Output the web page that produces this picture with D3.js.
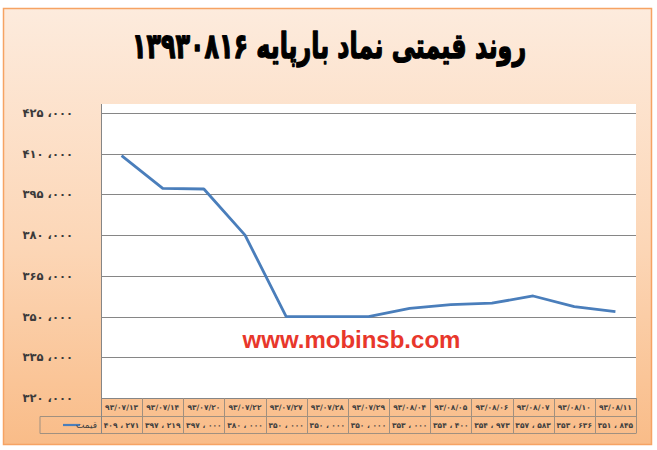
<!DOCTYPE html>
<html><head><meta charset="utf-8">
<script src="https://cdn.jsdelivr.net/npm/d3@7/dist/d3.min.js"></script>
<style>body{margin:0;background:#fff}svg{display:block}</style>
</head><body>
<script>
const titleText = "روند قیمتی نماد بارپایه ۱۳۹۳۰۸۱۶";
const seriesName = "قیمت";
const dates = ["۹۳/۰۷/۱۳","۹۳/۰۷/۱۴","۹۳/۰۷/۲۰","۹۳/۰۷/۲۲","۹۳/۰۷/۲۷","۹۳/۰۷/۲۸","۹۳/۰۷/۲۹","۹۳/۰۸/۰۴","۹۳/۰۸/۰۵","۹۳/۰۸/۰۶","۹۳/۰۸/۰۷","۹۳/۰۸/۱۰","۹۳/۰۸/۱۱"];
const prices = [409271,397219,397000,380000,350000,350000,350000,353000,354400,354973,357583,353636,351845];
const yTicks = [320000,335000,350000,365000,380000,395000,410000,425000];
const watermark = "www.mobinsb.com";

(function(){
const W = 657, H = 450;
const fa = n => String(n).replace(/\d/g, d => "۰۱۲۳۴۵۶۷۸۹"[d]);
const fmt = (n, sep) => { const s = d3.format(",")(n).replace(/,/g, sep); return fa(s); };

const svg = d3.select("body").append("svg").attr("width", W).attr("height", H);
const defs = svg.append("defs");
const g = defs.append("linearGradient").attr("id","bg").attr("x1",0).attr("y1",0).attr("x2",0).attr("y2",1);
g.append("stop").attr("offset","0%").attr("stop-color","#FDEBDD");
g.append("stop").attr("offset","55%").attr("stop-color","#FCD6B6");
g.append("stop").attr("offset","100%").attr("stop-color","#F9BC88");

svg.append("rect").attr("x",3.5).attr("y",8.5).attr("width",648).attr("height",436)
  .attr("fill","url(#bg)").attr("stroke","#F6A363").attr("stroke-width",1.5);

const pLeft = 101, pRight = 636, pTop = 104;
const x = d3.scaleBand().domain(dates).range([pLeft, pRight]);
const y = d3.scaleLinear().domain([320000, 425000]).range([398, 113]);

svg.append("rect").attr("x",pLeft).attr("y",pTop).attr("width",pRight-pLeft).attr("height",y(320000)-pTop).attr("fill","#fff");

svg.append("g").selectAll("line").data(yTicks.slice(1)).join("line")
  .attr("x1",pLeft).attr("x2",pRight).attr("y1",d=>Math.round(y(d))+0.5).attr("y2",d=>Math.round(y(d))+0.5)
  .attr("stroke","#868686").attr("stroke-width",1);

svg.append("g").selectAll("text").data(yTicks).join("text")
  .attr("x",73).attr("y",d=>y(d)).attr("dy","0.35em").attr("text-anchor","end")
  .attr("font-family","DejaVu Sans").attr("font-weight","bold").attr("font-size",11.5)
  .attr("fill","#3a3a3a").text(d=>fmt(d," ،"));

svg.append("text").attr("x",(pLeft+pRight)/2 - 17).attr("y",y(338500)).attr("text-anchor","middle")
  .attr("font-family","Liberation Sans").attr("font-weight","bold").attr("font-size",24)
  .attr("fill","#E8372B").text(watermark);

const line = d3.line().x((d,i)=>x(dates[i])+x.bandwidth()/2).y(d=>y(d));
svg.append("path").datum(prices).attr("d",line).attr("fill","none")
  .attr("stroke","#4A7EBB").attr("stroke-width",2.8).attr("stroke-linejoin","round");

const r0 = 398, r1 = 416.5, r2 = 433.5, hdrLeft = 40;
const tg = svg.append("g").attr("stroke","#A09080").attr("stroke-width",1);
tg.append("line").attr("x1",pLeft).attr("x2",pRight).attr("y1",r0+0.5).attr("y2",r0+0.5).attr("stroke","#868686");
tg.append("line").attr("x1",hdrLeft).attr("x2",pRight).attr("y1",r1).attr("y2",r1);
tg.append("line").attr("x1",hdrLeft).attr("x2",pRight).attr("y1",r2).attr("y2",r2);
tg.append("line").attr("x1",hdrLeft).attr("x2",hdrLeft).attr("y1",r1).attr("y2",r2);
tg.selectAll("line.v").data(dates).join("line").attr("class","v")
  .attr("x1",d=>Math.round(x(d)+x.bandwidth())+0.5).attr("x2",d=>Math.round(x(d)+x.bandwidth())+0.5)
  .attr("y1",r0).attr("y2",r2);
svg.append("line").attr("x1",pLeft+0.5).attr("x2",pLeft+0.5).attr("y1",pTop).attr("y2",r2).attr("stroke","#868686");

const tf = sel => sel.attr("font-family","DejaVu Sans").attr("font-weight","bold").attr("font-size",7.5)
  .attr("fill","#404040").attr("text-anchor","middle");
svg.append("g").selectAll("text").data(dates).join("text").call(tf)
  .attr("x",d=>x(d)+x.bandwidth()/2).attr("y",(r0+r1)/2).attr("dy","0.35em").text(d=>d);
svg.append("g").selectAll("text").data(prices).join("text").call(tf)
  .attr("x",(d,i)=>x(dates[i])+x.bandwidth()/2).attr("y",(r1+r2)/2).attr("dy","0.35em").text(d=>fmt(d," ، "));

svg.append("line").attr("x1",63).attr("x2",80).attr("y1",(r1+r2)/2).attr("y2",(r1+r2)/2)
  .attr("stroke","#4A7EBB").attr("stroke-width",2.2);
svg.append("text").attr("x",97).attr("y",(r1+r2)/2).attr("dy","0.35em").attr("text-anchor","end")
  .attr("font-family","DejaVu Sans").attr("font-size",9).attr("fill","#404040").text(seriesName);

svg.append("text").attr("transform","translate(329,58) scale(0.68,1)").attr("text-anchor","middle")
  .attr("font-family","DejaVu Sans").attr("font-weight","bold").attr("font-size",35)
  .attr("fill","#000").attr("stroke","#000").attr("stroke-width",1.4).attr("stroke-linejoin","round")
  .style("direction","rtl").style("unicode-bidi","embed").text(titleText);
})();
</script>
</body></html>
